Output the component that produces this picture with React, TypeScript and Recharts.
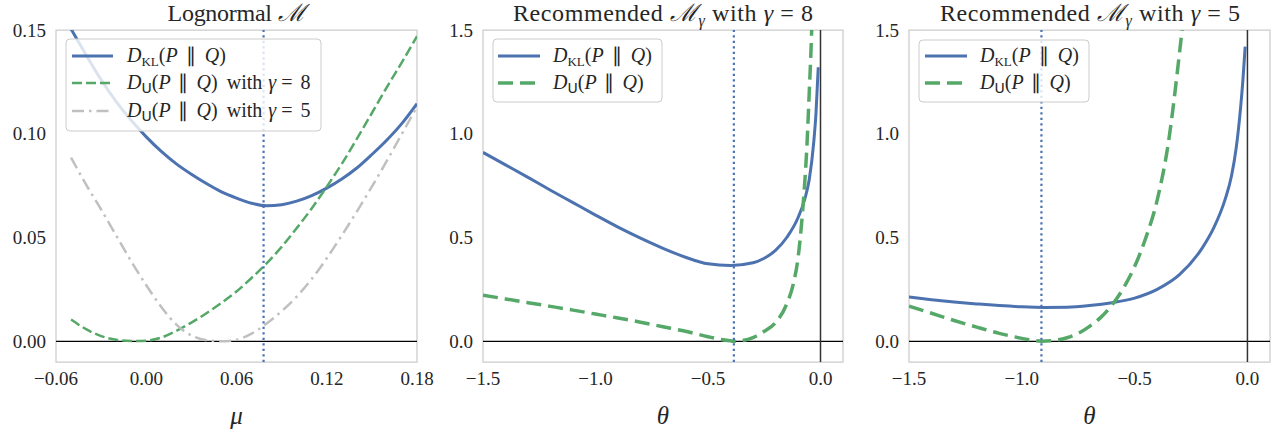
import React from 'react';
import { LineChart, Line, XAxis, YAxis, ReferenceLine, ReferenceArea } from 'recharts';

const BLUE = '#4c72b0';
const GREEN = '#55a868';
const GRAY = '#c0c0c0';
const TXT = '#262626';
const SERIF = '"Liberation Serif", "Times New Roman"';
const SANS = '"DejaVu Sans"';
const SF = { fontFamily: SERIF };
const SFI = { fontFamily: SERIF, fontStyle: 'italic' as const };

// ---- Panel 1: Lognormal M ----
const muGrid = [-0.05, -0.04, -0.03, -0.02, -0.01, 0.0, 0.01, 0.02, 0.03, 0.04, 0.05, 0.06, 0.07, 0.08, 0.09, 0.10, 0.11, 0.12, 0.13, 0.14, 0.15, 0.16, 0.17, 0.18];
const lognormalKL = [0.1505, 0.138, 0.126, 0.1155, 0.1065, 0.0985, 0.0915, 0.0855, 0.0805, 0.076, 0.072, 0.069, 0.0665, 0.0653, 0.0658, 0.0675, 0.0702, 0.0738, 0.0782, 0.0835, 0.090, 0.097, 0.105, 0.1145];
const lognormalU8 = [0.0105, 0.0058, 0.0025, 0.0007, 0.0001, 0.0003, 0.0018, 0.005, 0.009, 0.0135, 0.0185, 0.024, 0.0305, 0.0375, 0.0455, 0.0545, 0.064, 0.0745, 0.0855, 0.0975, 0.11, 0.1225, 0.1345, 0.147];
const lognormalU5 = [0.0885, 0.0755, 0.0635, 0.051, 0.0385, 0.027, 0.0165, 0.008, 0.0028, 0.0005, 0.0, 0.0007, 0.0037, 0.0085, 0.0145, 0.0215, 0.030, 0.040, 0.051, 0.0625, 0.0745, 0.087, 0.100, 0.113];
const lognormalOpt = 0.078;

// ---- Panel 2: Recommended, gamma = 8 ----
const g8ThetaKL = [-1.5, -1.4, -1.3, -1.2, -1.1, -1.0, -0.9, -0.8, -0.7, -0.6, -0.5, -0.4, -0.3, -0.25, -0.2, -0.15, -0.1, -0.07, -0.05, -0.03, -0.02, -0.01];
const g8KL = [0.91, 0.85, 0.79, 0.728, 0.668, 0.608, 0.55, 0.497, 0.448, 0.405, 0.373, 0.365, 0.378, 0.400, 0.438, 0.500, 0.595, 0.685, 0.78, 0.96, 1.10, 1.32];
const g8ThetaU = [-1.5, -1.4, -1.3, -1.2, -1.1, -1.0, -0.9, -0.8, -0.7, -0.6, -0.5, -0.45, -0.4, -0.385, -0.35, -0.3, -0.25, -0.2, -0.15, -0.12, -0.1, -0.08, -0.06, -0.05, -0.04, -0.035];
const g8U = [0.222, 0.204, 0.186, 0.168, 0.15, 0.131, 0.112, 0.092, 0.07, 0.048, 0.022, 0.01, 0.002, 0.0, 0.003, 0.018, 0.048, 0.09, 0.18, 0.28, 0.40, 0.62, 0.95, 1.2, 1.47, 1.65];
const g8Opt = -0.385;

// ---- Panel 3: Recommended, gamma = 5 ----
const g5ThetaKL = [-1.5, -1.4, -1.3, -1.2, -1.1, -1.0, -0.9, -0.8, -0.7, -0.6, -0.5, -0.4, -0.3, -0.2, -0.15, -0.1, -0.07, -0.05, -0.03, -0.02, -0.01];
const g5KL = [0.213, 0.2, 0.189, 0.18, 0.172, 0.166, 0.163, 0.164, 0.172, 0.186, 0.208, 0.25, 0.322, 0.45, 0.545, 0.68, 0.80, 0.93, 1.13, 1.26, 1.42];
const g5ThetaU = [-1.5, -1.4, -1.3, -1.2, -1.1, -1.0, -0.95, -0.913, -0.85, -0.8, -0.75, -0.7, -0.65, -0.6, -0.55, -0.5, -0.45, -0.4, -0.35, -0.3, -0.27];
const g5U = [0.169, 0.135, 0.10, 0.068, 0.038, 0.014, 0.004, 0.0, 0.005, 0.017, 0.038, 0.072, 0.115, 0.175, 0.255, 0.36, 0.50, 0.68, 0.96, 1.40, 1.70];
const g5Opt = -0.913;

// ---- ticks ----
const muTicks = [-0.06, 0.0, 0.06, 0.12, 0.18];
const lognormalYTicks = [0.0, 0.05, 0.1, 0.15];
const thetaTicks = [-1.5, -1.0, -0.5, 0.0];
const recYTicks = [0.0, 0.5, 1.0, 1.5];

const zip = (xs: number[], ys: number[]) => xs.map((x, i) => ({ x, y: ys[i] }));
const fmt = (d: number) => (v: number) => {
  const s = Math.abs(v).toFixed(d);
  return v < -1e-12 ? '\u2212' + s : s;
};

const makeTick = (d: number, axis: 'x' | 'y') => (p: any) => (
  <text x={p.x} y={p.y} dy={axis === 'x' ? '0.71em' : '0.355em'} textAnchor={axis === 'x' ? 'middle' : 'end'}
    fontSize={19} fill={TXT} style={SF}>
    {fmt(d)(p.payload.value)}
  </text>
);

type Series = { data: { x: number; y: number }[]; color: string; width: number; dash?: string; key: string };

function Panel(props: {
  left: number; width: number; yAxisWidth: number; rightMargin: number;
  xDomain: [number, number]; yDomain: [number, number];
  xTicks: number[]; yTicks: number[]; xDec: number; yDec: number;
  series: Series[]; vline: number; zeroV: boolean;
}) {
  return (
    <div style={{ position: 'absolute', left: props.left, top: 0 }}>
      <LineChart width={props.width} height={438} margin={{ top: 30, right: props.rightMargin, bottom: 0, left: 0 }}>
        <XAxis type="number" dataKey="x" domain={props.xDomain} ticks={props.xTicks}
          tickLine={false} axisLine={false} tickSize={0} tickMargin={10} tick={makeTick(props.xDec, 'x')} height={76}
          allowDataOverflow interval={0} />
        <YAxis type="number" dataKey="y" domain={props.yDomain} ticks={props.yTicks}
          tickLine={false} axisLine={false} tickSize={0} tickMargin={10} tick={makeTick(props.yDec, 'y')} width={props.yAxisWidth}
          allowDataOverflow interval={0} />
        <ReferenceLine y={0} stroke="#000000" strokeWidth={1.25} />
        {props.zeroV && <ReferenceLine x={0} stroke="#333333" strokeWidth={1.5} />}
        {props.series.map((s) => (
          <Line key={s.key} data={s.data} dataKey="y" type="monotone" stroke={s.color} strokeWidth={s.width}
            strokeDasharray={s.dash} dot={false} activeDot={false} isAnimationActive={false} />
        ))}
        <ReferenceLine x={props.vline} stroke={BLUE} strokeWidth={2.2} strokeDasharray="2.2 3.3" />
        <ReferenceArea x1={props.xDomain[0]} x2={props.xDomain[1]} y1={props.yDomain[0]} y2={props.yDomain[1]}
          fill="none" fillOpacity={0} stroke="#cccccc" strokeWidth={1.25} ifOverflow="visible" />
      </LineChart>
    </div>
  );
}

const KL = (x: number, y: number) => (
  <text x={x} y={y} fontSize={20} fill={TXT} style={SF}>
    <tspan style={SFI}>D</tspan>
    <tspan fontSize={13} dy={4} style={SF}>KL</tspan>
    <tspan dy={-4} style={SF}>(</tspan>
    <tspan style={SFI}>P</tspan>
    <tspan dx={8} style={SF}>{'\u2225'}</tspan>
    <tspan dx={9} style={SFI}>Q</tspan>
    <tspan style={SF}>)</tspan>
  </text>
);

const DU = (x: number, y: number, gamma?: string) => (
  <text x={x} y={y} fontSize={20} fill={TXT} style={SF}>
    <tspan style={SFI}>D</tspan>
    <tspan fontSize={14} dy={4} style={{ fontFamily: SANS }}>U</tspan>
    <tspan dy={-4} style={SF}>(</tspan>
    <tspan style={SFI}>P</tspan>
    <tspan dx={7} style={SF}>{'\u2225'}</tspan>
    <tspan dx={9} style={SFI}>Q</tspan>
    <tspan style={SF}>)</tspan>
    {gamma && <tspan dx={9} style={SF}>with</tspan>}
    {gamma && <tspan dx={6} style={SFI}>{'\u03b3'}</tspan>}
    {gamma && <tspan dx={5} style={SF}>=</tspan>}
    {gamma && <tspan dx={8} style={SF}>{gamma}</tspan>}
  </text>
);

const Title = (x: number, gamma?: string) =>
  gamma ? (
    <text x={x} y={21} textAnchor="middle" fontSize={24} fill={TXT} style={SF} textLength={300} lengthAdjust="spacing">
      <tspan style={SF}>Recommended </tspan>
      <tspan style={SFI}>{'\u2133'}</tspan>
      <tspan fontSize={16} dy={5} style={SFI}>{'\u03b3'}</tspan>
      <tspan dy={-5} style={SF}> with </tspan>
      <tspan style={SFI}>{'\u03b3'}</tspan>
      <tspan style={SF}>{' = ' + gamma}</tspan>
    </text>
  ) : (
    <text x={x} y={21} textAnchor="middle" fontSize={24} fill={TXT} style={SF} textLength={138} lengthAdjust="spacing">
      <tspan style={SF}>Lognormal </tspan>
      <tspan style={SFI}>{'\u2133'}</tspan>
    </text>
  );

function Overlay() {
  return (
    <svg width={1281} height={438} style={{ position: 'absolute', left: 0, top: 0, pointerEvents: 'none' }}>
      {Title(236.5)}
      {Title(663, '8')}
      {Title(1090, '5')}

      {/* axis labels */}
      <text x={236.5} y={424} textAnchor="middle" fontSize={25} fill={TXT} style={SFI}>{'\u03bc'}</text>
      <text x={663} y={424} textAnchor="middle" fontSize={25} fill={TXT} style={SFI}>{'\u03b8'}</text>
      <text x={1089.5} y={424} textAnchor="middle" fontSize={25} fill={TXT} style={SFI}>{'\u03b8'}</text>

      {/* legend 1 */}
      <rect x={66} y={39} width={255} height={92} rx={4} fill="#ffffff" fillOpacity={0.8} stroke="#cccccc" strokeWidth={1} />
      <line x1={72} x2={113} y1={56} y2={56} stroke={BLUE} strokeWidth={3} />
      <line x1={72} x2={113} y1={83} y2={83} stroke={GREEN} strokeWidth={2.5} strokeDasharray="10 4" />
      <line x1={72} x2={113} y1={111} y2={111} stroke={GRAY} strokeWidth={2.5} strokeDasharray="12 5 2.5 5" />
      {KL(127, 62)}
      {DU(127, 89, '8')}
      {DU(127, 117, '5')}

      {/* legend 2 */}
      <rect x={493} y={39} width={169} height={63} rx={4} fill="#ffffff" fillOpacity={0.8} stroke="#cccccc" strokeWidth={1} />
      <line x1={498} x2={540} y1={56} y2={56} stroke={BLUE} strokeWidth={3} />
      <line x1={498} x2={540} y1={83} y2={83} stroke={GREEN} strokeWidth={3.5} strokeDasharray="15 7" />
      {KL(553, 62)}
      {DU(553, 89)}

      {/* legend 3 */}
      <rect x={919} y={40} width={170} height={62} rx={4} fill="#ffffff" fillOpacity={0.8} stroke="#cccccc" strokeWidth={1} />
      <line x1={925} x2={967} y1={56} y2={56} stroke={BLUE} strokeWidth={3} />
      <line x1={925} x2={967} y1={83} y2={83} stroke={GREEN} strokeWidth={3.5} strokeDasharray="15 7" />
      {KL(980, 62)}
      {DU(980, 89)}
    </svg>
  );
}

export default function App() {
  return (
    <div style={{ position: 'absolute', left: 0, top: 0, width: 1281, height: 438, background: '#ffffff', overflow: 'hidden' }}>
      <Panel left={0} width={445} yAxisWidth={56} rightMargin={28}
        xDomain={[-0.06, 0.18]} yDomain={[-0.01, 0.15]} xTicks={muTicks} yTicks={lognormalYTicks} xDec={2} yDec={2}
        vline={lognormalOpt} zeroV={false}
        series={[
          { key: 'kl', data: zip(muGrid, lognormalKL), color: BLUE, width: 3 },
          { key: 'u8', data: zip(muGrid, lognormalU8), color: GREEN, width: 2.5, dash: '10 4' },
          { key: 'u5', data: zip(muGrid, lognormalU5), color: GRAY, width: 2.5, dash: '12 5 2.5 5' },
        ]} />
      <Panel left={430} width={430} yAxisWidth={53} rightMargin={17}
        xDomain={[-1.5, 0.1]} yDomain={[-0.1, 1.5]} xTicks={thetaTicks} yTicks={recYTicks} xDec={1} yDec={1}
        vline={g8Opt} zeroV={true}
        series={[
          { key: 'kl', data: zip(g8ThetaKL, g8KL), color: BLUE, width: 3 },
          { key: 'u', data: zip(g8ThetaU, g8U), color: GREEN, width: 3.5, dash: '15 7' },
        ]} />
      <Panel left={860} width={421} yAxisWidth={49} rightMargin={11}
        xDomain={[-1.5, 0.1]} yDomain={[-0.1, 1.5]} xTicks={thetaTicks} yTicks={recYTicks} xDec={1} yDec={1}
        vline={g5Opt} zeroV={true}
        series={[
          { key: 'kl', data: zip(g5ThetaKL, g5KL), color: BLUE, width: 3 },
          { key: 'u', data: zip(g5ThetaU, g5U), color: GREEN, width: 3.5, dash: '15 7' },
        ]} />
      <Overlay />
    </div>
  );
}
